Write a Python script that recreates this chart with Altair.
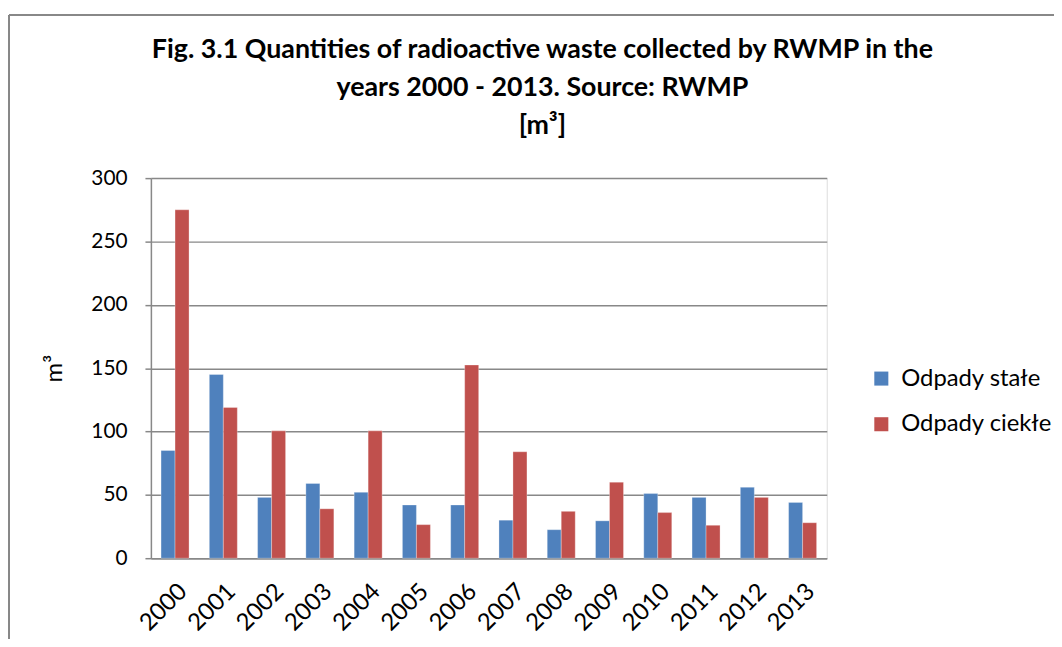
import altair as alt
import pandas as pd

years = [str(y) for y in range(2000, 2014)]
solid = [85, 145, 48, 59, 52, 42, 42, 30, 22.5, 29.5, 51, 48, 56, 44]
liquid = [275, 119, 100.5, 39, 100.5, 26.5, 152.5, 84, 37, 60, 36, 26, 48, 28]
series = ["Odpady stałe", "Odpady ciekłe"]
colors = ["#4F81BD", "#C0504D"]

rows = []
for i, y in enumerate(years):
    rows.append({"year": y, "series": series[0], "value": solid[i]})
    rows.append({"year": y, "series": series[1], "value": liquid[i]})
df = pd.DataFrame(rows)

FONT = "Lato"

bars = alt.Chart(df).mark_bar(stroke="white", strokeWidth=0.5, strokeOpacity=0.6).encode(
    x=alt.X("year:N", sort=years,
            scale=alt.Scale(paddingInner=0.42, paddingOuter=0.21),
            axis=alt.Axis(title=None, labelAngle=-45, labelAlign="right", labelBaseline="top",
                          labelFontSize=24, labelFont=FONT, labelColor="black", labelPadding=21,
                          ticks=False, domainColor="#888888", domainWidth=1.5, grid=False)),
    xOffset=alt.XOffset("series:N", sort=series),
    y=alt.Y("value:Q", scale=alt.Scale(domain=[0, 300]),
            axis=alt.Axis(title="m³", titleFont=FONT, titleFontSize=24, titleFontWeight="normal",
                          titleColor="black", titlePadding=25,
                          values=[0, 50, 100, 150, 200, 250, 300],
                          labelFontSize=21, labelFont=FONT, labelColor="black", labelPadding=18,
                          tickColor="#888888", tickSize=6, tickWidth=1.5,
                          domainColor="#888888", domainWidth=1.5,
                          gridColor="#888888", gridWidth=1.5)),
    color=alt.Color("series:N", sort=series, scale=alt.Scale(domain=series, range=colors),
                    legend=alt.Legend(title=None, orient="none", legendX=724, legendY=190,
                                      symbolType="square", symbolSize=200, symbolStrokeWidth=0,
                                      labelFont=FONT, labelFontSize=24, labelColor="black",
                                      rowPadding=22, labelOffset=8)),
)

border_v = alt.Chart(df).mark_rule(color="#888888", strokeWidth=1.2).encode(
    x=alt.value(-143), y=alt.value(-164), y2=alt.value(500))
border_h = alt.Chart(df).mark_rule(color="#888888", strokeWidth=1.2).encode(
    x=alt.value(-143), x2=alt.value(920), y=alt.value(-164))

chart = alt.layer(border_v, border_h, bars).properties(
    width=681, height=383,
    autosize=alt.AutoSizeParams(type="none"),
    padding={"left": 144, "top": 169, "right": 229, "bottom": 79},
    title=alt.TitleParams(
        text=["Fig. 3.1 Quantities of radioactive waste collected by RWMP in the",
              "years 2000 - 2013. Source: RWMP", "[m³]"],
        font=FONT, fontSize=27, fontWeight="bold", color="black",
        anchor="middle", frame="group", dx=54, lineHeight=38, offset=-126),
).configure_view(stroke=None).configure(background="white")

chart.save("out.html", embed_options={"renderer": "svg", "actions": False})
